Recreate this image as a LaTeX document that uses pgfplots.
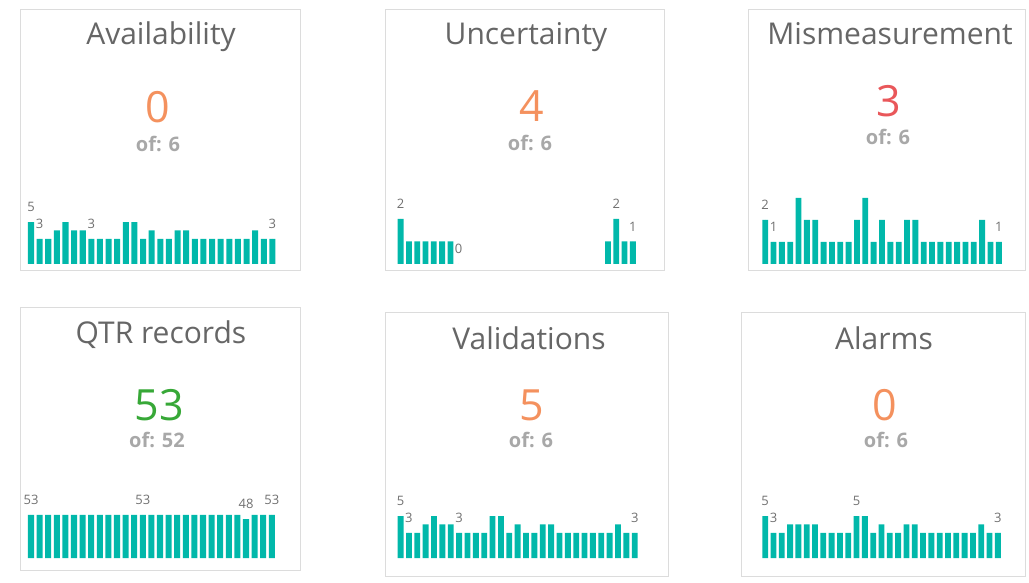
\documentclass[border=0pt]{standalone}
\usepackage{pgfplots}
\pgfplotsset{compat=1.18}
\usepackage{fontspec}
\setmainfont{Open Sans}
\definecolor{barc}{HTML}{01B8AA}
\definecolor{titlec}{HTML}{666666}
\definecolor{orangec}{HTML}{F4915E}
\definecolor{redc}{HTML}{E9575A}
\definecolor{greenc}{HTML}{37A837}
\definecolor{ofc}{HTML}{A8A8A8}
\definecolor{lblc}{HTML}{707070}
\definecolor{panelc}{HTML}{DCDCDC}
\pgfplotsset{
  spark/.style={anchor=south west, scale only axis, height=66pt, xmin=-0.5, xmax=28.5, ymin=0, hide axis, clip=false},
  bars/.style={ybar, bar width=0.7, bar shift=0pt, fill=barc, draw=none},
  lbl/.style={only marks, mark=*, mark size=0pt, mark options={draw=none,fill=none}, nodes near coords, point meta=explicit symbolic,
    nodes near coords style={anchor=south, inner sep=0pt, yshift=10pt, font=\fontsize{13}{13}\selectfont, text=lblc}}
}
\newcommand{\ttlfont}{\fontsize{30}{34}\selectfont}
\newcommand{\bignum}{\fontsize{43}{46}\selectfont}
\newcommand{\offont}{\fontsize{20}{22}\selectfont\bfseries}
\begin{document}
\begin{tikzpicture}
\path (0,0) rectangle (1029pt,582pt);
% panels
\draw[panelc, line width=1pt] (20pt,311pt) rectangle (300pt,572pt);
\draw[panelc, line width=1pt] (385pt,311pt) rectangle (664pt,572pt);
\draw[panelc, line width=1pt] (748pt,311pt) rectangle (1025pt,572pt);
\draw[panelc, line width=1pt] (20pt,12pt) rectangle (300pt,274pt);
\draw[panelc, line width=1pt] (385pt,6pt) rectangle (668pt,269pt);
\draw[panelc, line width=1pt] (741pt,6pt) rectangle (1025pt,269pt);
% titles
\node[anchor=base, text=titlec, font=\ttlfont] at (161pt,537pt) {Availability};
\node[anchor=base, text=titlec, font=\ttlfont] at (526pt,537pt) {Uncertainty};
\node[anchor=base, text=titlec, font=\ttlfont] at (890pt,537pt) {Mismeasurement};
\node[anchor=base, text=titlec, font=\ttlfont] at (161pt,239pt) {QTR records};
\node[anchor=base, text=titlec, font=\ttlfont] at (529pt,233pt) {Validations};
\node[anchor=base, text=titlec, font=\ttlfont] at (884pt,233pt) {Alarms};
% big numbers
\node[anchor=base, text=orangec, font=\bignum] at (158pt,459pt) {0};
\node[anchor=base, text=orangec, font=\bignum] at (532pt,460pt) {4};
\node[anchor=base, text=redc, font=\bignum] at (889pt,465pt) {3};
\node[anchor=base, text=greenc, font=\bignum] at (159pt,162pt) {53};
\node[anchor=base, text=orangec, font=\bignum] at (532pt,162pt) {5};
\node[anchor=base, text=orangec, font=\bignum] at (885pt,162pt) {0};
% of
\node[anchor=base, text=ofc, font=\offont] at (158pt,430pt) {of: 6};
\node[anchor=base, text=ofc, font=\offont] at (530pt,431pt) {of: 6};
\node[anchor=base, text=ofc, font=\offont] at (888pt,437pt) {of: 6};
\node[anchor=base, text=ofc, font=\offont] at (157pt,135pt) {of: 52};
\node[anchor=base, text=ofc, font=\offont] at (531pt,135pt) {of: 6};
\node[anchor=base, text=ofc, font=\offont] at (886pt,135pt) {of: 6};

% Availability
\begin{axis}[spark, at={(26.7pt,318pt)}, width=250pt, ymax=7.86]
\addplot[bars] coordinates {(0,5)(1,3)(2,3)(3,4)(4,5)(5,4)(6,4)(7,3)(8,3)(9,3)(10,3)(11,5)(12,5)(13,3)(14,4)(15,3)(16,3)(17,4)(18,4)(19,3)(20,3)(21,3)(22,3)(23,3)(24,3)(25,3)(26,4)(27,3)(28,3)};
\addplot[lbl] coordinates {(0,5)[5] (1,3)[3] (7,3)[3] (28,3)[3]};
\end{axis}
% Uncertainty
\begin{axis}[spark, at={(396.5pt,318pt)}, width=240.5pt, ymax=2.93]
\addplot[bars, restrict y to domain=0.01:100] coordinates {(0,2)(1,1)(2,1)(3,1)(4,1)(5,1)(6,1)(7,0)(8,0)(9,0)(10,0)(11,0)(12,0)(13,0)(14,0)(15,0)(16,0)(17,0)(18,0)(19,0)(20,0)(21,0)(22,0)(23,0)(24,0)(25,1)(26,2)(27,1)(28,1)};
\addplot[lbl] coordinates {(0,2)[2] (7,0)[0] (26,2)[2] (28,1)[1]};
\end{axis}
% Mismeasurement
\begin{axis}[spark, at={(761pt,318pt)}, width=242pt, ymax=3]
\addplot[bars] coordinates {(0,2)(1,1)(2,1)(3,1)(4,3)(5,2)(6,2)(7,1)(8,1)(9,1)(10,1)(11,2)(12,3)(13,1)(14,2)(15,1)(16,1)(17,2)(18,2)(19,1)(20,1)(21,1)(22,1)(23,1)(24,1)(25,1)(26,2)(27,1)(28,1)};
\addplot[lbl] coordinates {(0,2)[2] (1,1)[1] (28,1)[1]};
\end{axis}
% QTR records
\begin{axis}[spark, at={(26.7pt,24pt)}, width=249.4pt, ymax=81.3]
\addplot[bars] coordinates {(0,53)(1,53)(2,53)(3,53)(4,53)(5,53)(6,53)(7,53)(8,53)(9,53)(10,53)(11,53)(12,53)(13,53)(14,53)(15,53)(16,53)(17,53)(18,53)(19,53)(20,53)(21,53)(22,53)(23,53)(24,53)(25,48)(26,53)(27,53)(28,53)};
\addplot[lbl] coordinates {(0,53)[53] (13,53)[53] (25,48)[48] (28,53)[53]};
\end{axis}
% Validations
\begin{axis}[spark, at={(396.4pt,24pt)}, width=242.5pt, ymax=7.86]
\addplot[bars] coordinates {(0,5)(1,3)(2,3)(3,4)(4,5)(5,4)(6,4)(7,3)(8,3)(9,3)(10,3)(11,5)(12,5)(13,3)(14,4)(15,3)(16,3)(17,4)(18,4)(19,3)(20,3)(21,3)(22,3)(23,3)(24,3)(25,3)(26,4)(27,3)(28,3)};
\addplot[lbl] coordinates {(0,5)[5] (1,3)[3] (7,3)[3] (28,3)[3]};
\end{axis}
% Alarms
\begin{axis}[spark, at={(761pt,24pt)}, width=241pt, ymax=7.86]
\addplot[bars] coordinates {(0,5)(1,3)(2,3)(3,4)(4,4)(5,4)(6,4)(7,3)(8,3)(9,3)(10,3)(11,5)(12,5)(13,3)(14,4)(15,3)(16,3)(17,4)(18,4)(19,3)(20,3)(21,3)(22,3)(23,3)(24,3)(25,3)(26,4)(27,3)(28,3)};
\addplot[lbl] coordinates {(0,5)[5] (1,3)[3] (11,5)[5] (28,3)[3]};
\end{axis}
\end{tikzpicture}
\end{document}
